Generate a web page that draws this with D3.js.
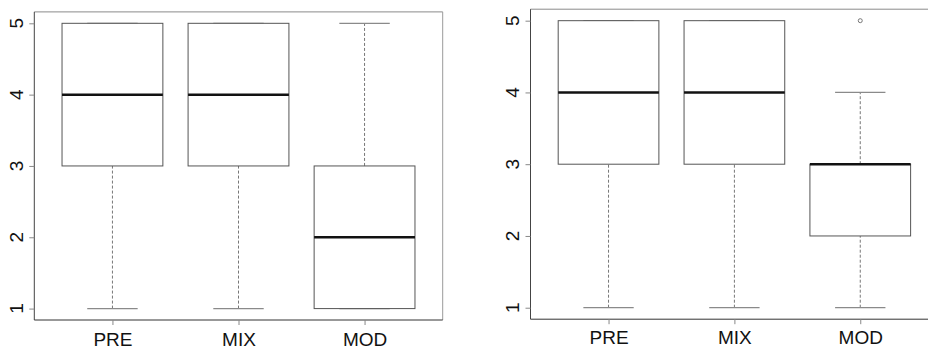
<!DOCTYPE html>
<html><head><meta charset="utf-8">
<script src="https://cdn.jsdelivr.net/npm/d3@7"></script>
<style>body{margin:0;background:#fff}svg{display:block}</style>
</head><body><svg id="c" width="928" height="350"></svg>
<script>
const categories = ["PRE","MIX","MOD"];
const yTicks = [1,2,3,4,5];
// [lowWhisker, q1, median, q3, highWhisker]
const leftStats = [[1,3,4,5,5],[1,3,4,5,5],[1,1,2,3,5]];
const rightStats = [[1,3,4,5,5],[1,3,4,5,5],[1,2,3,3,4]];
const leftOutliers = [[],[],[]];
const rightOutliers = [[],[],[5]];

const svg = d3.select("#c");
const FONT = "Liberation Sans, Arial, sans-serif";

function panel(cfg){
  const {x0,x1,y0,y1,stats,outliers,labelX,labelBase,rightBorder} = cfg;
  const x = d3.scaleLinear().domain([0.38,3.62]).range([x0,x1]);
  const y = d3.scaleLinear().domain([0.84,5.16]).range([y0,y1]);
  const g = svg.append("g");
  // frame
  g.append("line").attr("x1",x0).attr("x2",x1).attr("y1",y1).attr("y2",y1).attr("stroke","#8a8a8a");
  if(rightBorder) g.append("line").attr("x1",x1).attr("x2",x1).attr("y1",y1).attr("y2",y0).attr("stroke","#9a9a9a");
  g.append("line").attr("x1",x0).attr("x2",x0).attr("y1",y1).attr("y2",y0).attr("stroke","#444");
  g.append("line").attr("x1",x0).attr("x2",x1).attr("y1",y0).attr("y2",y0).attr("stroke","#333");
  // y axis ticks
  const ya = g.append("g").attr("transform",`translate(${x0},0)`)
    .call(d3.axisLeft(y).tickValues(yTicks).tickSize(5).tickFormat(""));
  ya.select(".domain").remove();
  ya.selectAll(".tick line").attr("stroke","#888");
  // rotated y labels
  g.append("g").selectAll("text").data(yTicks).join("text")
    .attr("transform",d=>`translate(${labelX},${y(d)}) rotate(-90)`)
    .attr("text-anchor","middle")
    .attr("font-family",FONT).attr("font-size",19).attr("fill","#111")
    .text(d=>d3.format("d")(d));
  // x axis
  const xa = g.append("g").attr("transform",`translate(0,${y0})`)
    .call(d3.axisBottom(x).tickValues([1,2,3]).tickSize(5).tickFormat((d,i)=>categories[i]));
  xa.select(".domain").remove();
  xa.selectAll(".tick line").attr("stroke","#888");
  xa.selectAll(".tick text").attr("font-size",19).attr("font-family",FONT).attr("fill","#111").attr("dy",0).attr("y",labelBase-y0);
  // boxes
  const bw = (x(2)-x(1))*0.8, cw = bw/2;
  stats.forEach((s,i)=>{
    const cx = x(i+1);
    const b = g.append("g");
    if(s[0]<s[1]) b.append("line").attr("x1",cx).attr("x2",cx).attr("y1",y(s[0])).attr("y2",y(s[1])).attr("stroke","#777").attr("stroke-dasharray","3,2");
    if(s[4]>s[3]) b.append("line").attr("x1",cx).attr("x2",cx).attr("y1",y(s[3])).attr("y2",y(s[4])).attr("stroke","#777").attr("stroke-dasharray","3,2");
    [s[0],s[4]].forEach(v=>b.append("line").attr("x1",cx-cw/2).attr("x2",cx+cw/2).attr("y1",y(v)).attr("y2",y(v)).attr("stroke","#8a8a8a").attr("stroke-width",1.2));
    b.append("rect").attr("x",cx-bw/2).attr("width",bw).attr("y",y(s[3])).attr("height",y(s[1])-y(s[3]))
      .attr("fill","#fff").attr("stroke","#555");
    b.append("line").attr("x1",cx-bw/2).attr("x2",cx+bw/2).attr("y1",y(s[2])).attr("y2",y(s[2])).attr("stroke","#111").attr("stroke-width",2.5);
    outliers[i].forEach(v=>b.append("circle").attr("cx",cx).attr("cy",y(v)).attr("r",2).attr("fill","none").attr("stroke","#777"));
  });
}

panel({x0:34.3,x1:442.7,y0:320,y1:11.9,stats:leftStats,outliers:leftOutliers,labelX:23,labelBase:345.5,rightBorder:true});
panel({x0:530.5,x1:938.3,y0:319.2,y1:9.2,stats:rightStats,outliers:rightOutliers,labelX:518.5,labelBase:344,rightBorder:false});
</script></body></html>
